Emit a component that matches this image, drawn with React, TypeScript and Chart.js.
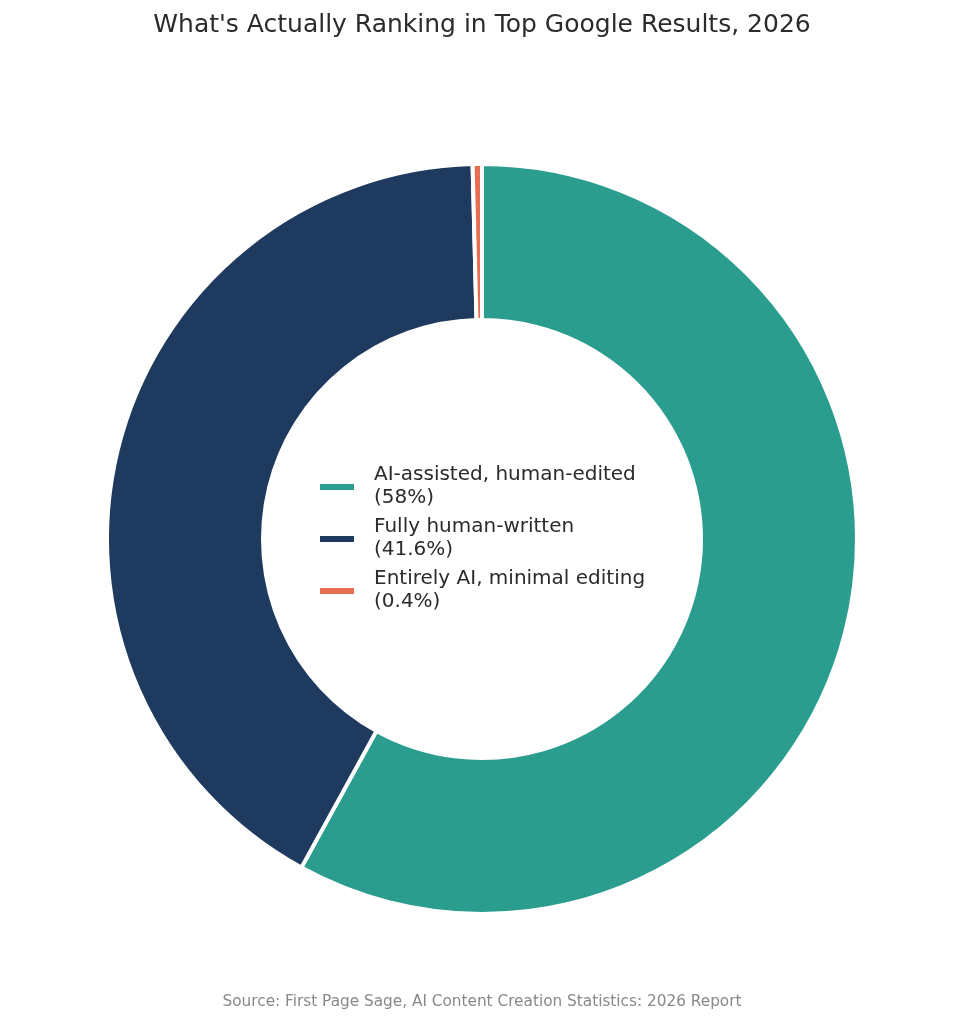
import React, { useEffect, useRef } from "react";
import { Chart, registerables } from "chart.js";

Chart.register(...registerables);

const title = "What's Actually Ranking in Top Google Results, 2026";
const source = "Source: First Page Sage, AI Content Creation Statistics: 2026 Report";
const categories = ["AI-assisted, human-edited", "Fully human-written", "Entirely AI, minimal editing"];
const shares = [58, 41.6, 0.4];
const colors = ["#2A9D8F", "#1F3A5F", "#E76F51"];

const FONT = "'DejaVu Sans', sans-serif";

const overlayPlugin = {
  id: "overlayText",
  afterDraw(chart: any) {
    const ctx = chart.ctx;
    const w = chart.width;
    ctx.save();
    // title
    ctx.fillStyle = "#2b2b2b";
    ctx.font = `25px ${FONT}`;
    ctx.textAlign = "center";
    ctx.textBaseline = "middle";
    ctx.fillText(title, w / 2, 25);
    // source
    ctx.fillStyle = "#888888";
    ctx.font = `15.3px ${FONT}`;
    ctx.fillText(source, w / 2, 1002);
    // legend in center
    const meta = chart.getDatasetMeta(0);
    const arc = meta.data[0];
    const cx = arc.x;
    const cy = arc.y;
    const spacing = 52;
    const n = categories.length;
    ctx.font = `20px ${FONT}`;
    ctx.textAlign = "left";
    categories.forEach((cat, i) => {
      const yc = cy + (i - (n - 1) / 2) * spacing;
      ctx.fillStyle = colors[i];
      ctx.fillRect(cx - 162, yc - 3, 34, 6);
      ctx.fillStyle = "#2b2b2b";
      ctx.fillText(cat, cx - 108, yc - 12);
      ctx.fillText(`(${shares[i]}%)`, cx - 108, yc + 11);
    });
    ctx.restore();
  },
};

export default function App() {
  const ref = useRef<HTMLCanvasElement>(null);
  useEffect(() => {
    if (!ref.current) return;
    const chart = new Chart(ref.current, {
      type: "doughnut",
      data: {
        labels: categories,
        datasets: [
          {
            data: shares,
            backgroundColor: colors,
            borderColor: "#ffffff",
            borderWidth: 4,
            hoverOffset: 0,
          },
        ],
      },
      options: {
        animation: false,
        responsive: false,
        maintainAspectRatio: false,
        cutout: 219,
        layout: { padding: { top: 162, bottom: 108, left: 0, right: 0 } },
        plugins: {
          legend: { display: false },
          title: { display: false },
          tooltip: { enabled: false },
        },
      },
      plugins: [overlayPlugin],
    });
    return () => chart.destroy();
  }, []);
  return (
    <div style={{ position: "fixed", left: 0, top: 0, width: 964, height: 1024, background: "#fff" }}>
      <canvas ref={ref} width={964} height={1024} style={{ width: 964, height: 1024, display: "block" }} />
    </div>
  );
}
